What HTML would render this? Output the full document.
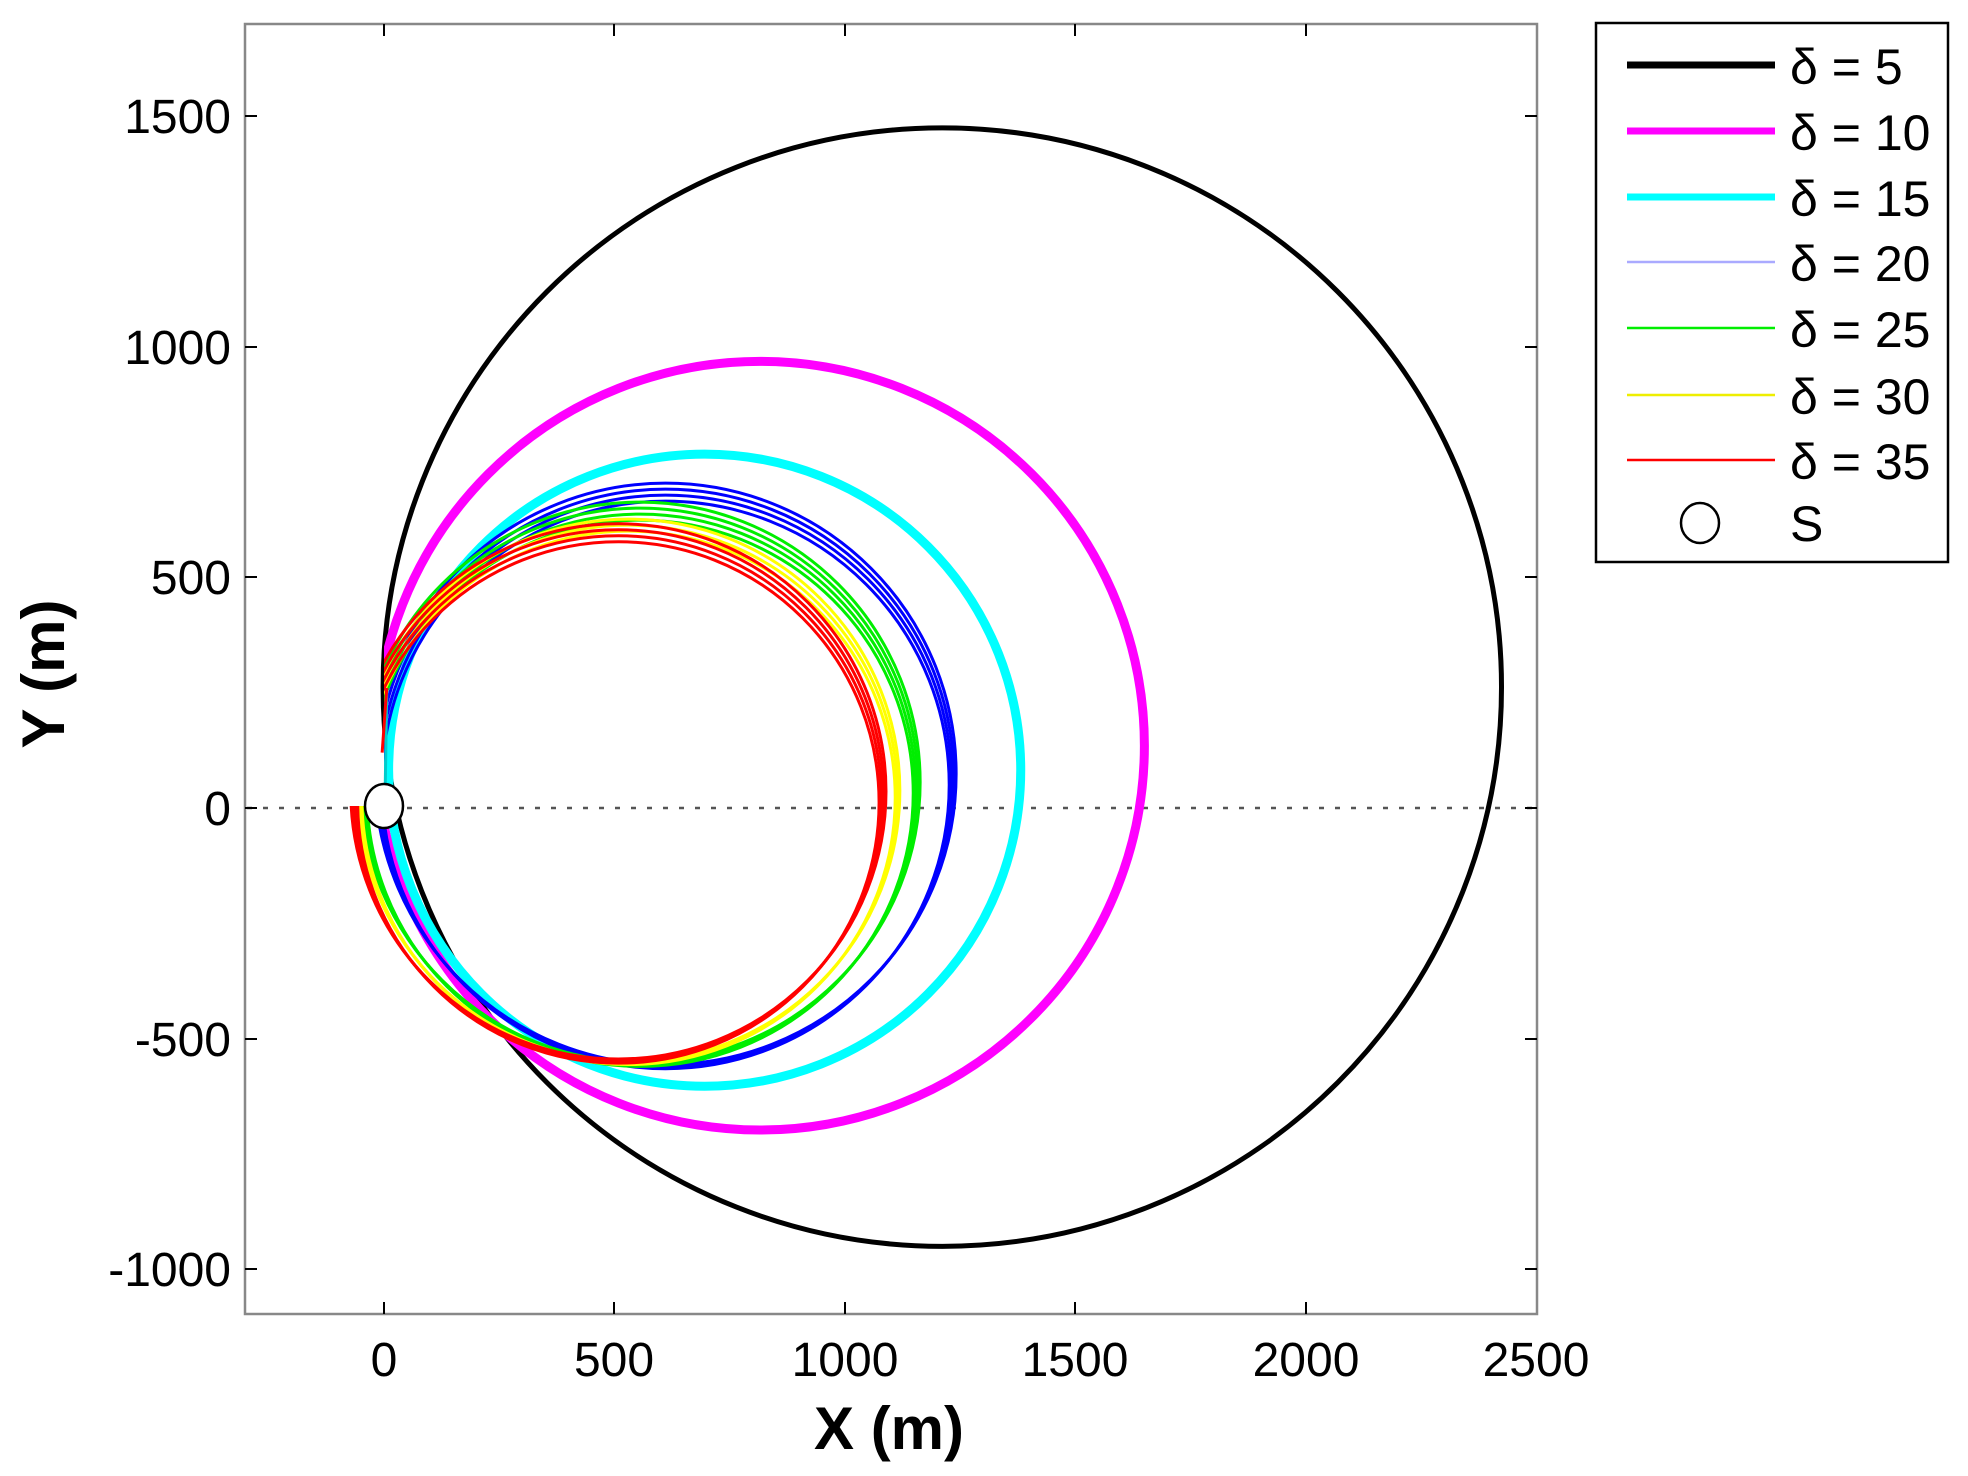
<!DOCTYPE html>
<html><head><meta charset="utf-8"><style>
html,body{margin:0;padding:0;background:#fff;}
svg{display:block;font-family:"Liberation Sans",Arial,sans-serif;}
</style></head><body>
<svg width="1968" height="1476" viewBox="0 0 1968 1476" xmlns="http://www.w3.org/2000/svg">
<rect width="1968" height="1476" fill="#fff"/>
<defs>
<clipPath id="ax"><rect x="245" y="24" width="1292" height="1290"/></clipPath>
<clipPath id="cut"><rect x="384" y="24" width="1153" height="1290"/><rect x="245" y="806" width="140" height="508"/></clipPath>
</defs>
<line x1="247" y1="808" x2="1536" y2="808" stroke="#555" stroke-width="2.5" stroke-dasharray="5 11"/>
<g clip-path="url(#ax)">
<g transform="matrix(0.4614,0,0,-0.4614,384,808)" fill="none">
  <circle cx="1210" cy="262" r="1212" stroke="#000" stroke-width="5" vector-effect="non-scaling-stroke"/>
</g>
<g clip-path="url(#cut)">
<g transform="matrix(0.4614,0,0,-0.4614,384,808)" fill="none">
  <circle cx="815" cy="135" r="833" stroke="#f0f" stroke-width="9" vector-effect="non-scaling-stroke"/>
  <circle cx="695" cy="82" r="685" stroke="#0ff" stroke-width="9" vector-effect="non-scaling-stroke"/>
  <g stroke="#00f" stroke-width="3">
    <circle cx="610" cy="50" r="615" vector-effect="non-scaling-stroke"/>
    <circle cx="610" cy="58" r="620" vector-effect="non-scaling-stroke"/>
    <circle cx="610" cy="66" r="625" vector-effect="non-scaling-stroke"/>
    <circle cx="610" cy="74" r="630" vector-effect="non-scaling-stroke"/>
  </g>
  <g stroke="#0e0" stroke-width="3">
    <circle cx="555" cy="32" r="592" vector-effect="non-scaling-stroke"/>
    <circle cx="555" cy="40" r="597" vector-effect="non-scaling-stroke"/>
    <circle cx="555" cy="48" r="602" vector-effect="non-scaling-stroke"/>
    <circle cx="555" cy="56" r="607" vector-effect="non-scaling-stroke"/>
  </g>
  <g stroke="#ff0" stroke-width="3">
    <circle cx="530" cy="22" r="578" vector-effect="non-scaling-stroke"/>
    <circle cx="530" cy="30" r="583" vector-effect="non-scaling-stroke"/>
    <circle cx="530" cy="38" r="588" vector-effect="non-scaling-stroke"/>
  </g>
  <g stroke="#f00" stroke-width="3">
    <circle cx="508" cy="12" r="565" vector-effect="non-scaling-stroke"/>
    <circle cx="508" cy="20" r="570" vector-effect="non-scaling-stroke"/>
    <circle cx="508" cy="28" r="575" vector-effect="non-scaling-stroke"/>
    <circle cx="508" cy="36" r="580" vector-effect="non-scaling-stroke"/>
  </g>
</g>
</g>
<g transform="matrix(0.4614,0,0,-0.4614,384,808)" fill="none">
  <line x1="2" y1="0" x2="6" y2="260" stroke="#0cc" stroke-width="3" vector-effect="non-scaling-stroke"/>
  <line x1="-4" y1="120" x2="6" y2="260" stroke="#f00" stroke-width="3" vector-effect="non-scaling-stroke"/>
</g>
</g>
<ellipse cx="384" cy="806" rx="19" ry="22" fill="#fff" stroke="#000" stroke-width="2.5"/>
<rect x="245" y="24" width="1292" height="1290" fill="none" stroke="#888" stroke-width="2.5"/>
<g stroke="#000" stroke-width="2">
  <line x1="384" y1="1314" x2="384" y2="1302"/><line x1="614" y1="1314" x2="614" y2="1302"/>
  <line x1="845" y1="1314" x2="845" y2="1302"/><line x1="1075" y1="1314" x2="1075" y2="1302"/>
  <line x1="1306" y1="1314" x2="1306" y2="1302"/>
  <line x1="384" y1="24" x2="384" y2="36"/><line x1="614" y1="24" x2="614" y2="36"/>
  <line x1="845" y1="24" x2="845" y2="36"/><line x1="1075" y1="24" x2="1075" y2="36"/>
  <line x1="1306" y1="24" x2="1306" y2="36"/>
  <line x1="245" y1="116" x2="257" y2="116"/><line x1="245" y1="347" x2="257" y2="347"/>
  <line x1="245" y1="577" x2="257" y2="577"/><line x1="245" y1="808" x2="257" y2="808"/>
  <line x1="245" y1="1039" x2="257" y2="1039"/><line x1="245" y1="1269" x2="257" y2="1269"/>
  <line x1="1537" y1="116" x2="1525" y2="116"/><line x1="1537" y1="347" x2="1525" y2="347"/>
  <line x1="1537" y1="577" x2="1525" y2="577"/><line x1="1537" y1="808" x2="1525" y2="808"/>
  <line x1="1537" y1="1039" x2="1525" y2="1039"/><line x1="1537" y1="1269" x2="1525" y2="1269"/>
</g>
<g font-size="48" fill="#000" text-anchor="middle">
  <text x="384" y="1376">0</text><text x="614" y="1376">500</text><text x="845" y="1376">1000</text>
  <text x="1075" y="1376">1500</text><text x="1306" y="1376">2000</text><text x="1536" y="1376">2500</text>
</g>
<g font-size="48" fill="#000" text-anchor="end">
  <text x="231" y="133">1500</text><text x="231" y="364">1000</text><text x="231" y="594">500</text>
  <text x="231" y="825">0</text><text x="231" y="1056">-500</text><text x="231" y="1286">-1000</text>
</g>
<text x="889" y="1449" font-size="60" font-weight="bold" text-anchor="middle">X (m)</text>
<text transform="translate(64,674) rotate(-90)" font-size="60" font-weight="bold" text-anchor="middle">Y (m)</text>
<rect x="1596" y="23" width="352" height="539" fill="#fff" stroke="#000" stroke-width="2.5"/>
<g>
  <line x1="1627" y1="65" x2="1775" y2="65" stroke="#000" stroke-width="7"/>
  <line x1="1627" y1="131" x2="1775" y2="131" stroke="#f0f" stroke-width="7"/>
  <line x1="1627" y1="197" x2="1775" y2="197" stroke="#0ff" stroke-width="7"/>
  <line x1="1627" y1="262" x2="1775" y2="262" stroke="#aaf" stroke-width="2.5"/>
  <line x1="1627" y1="328" x2="1775" y2="328" stroke="#0e0" stroke-width="2.5"/>
  <line x1="1627" y1="395" x2="1775" y2="395" stroke="#ee0" stroke-width="2.5"/>
  <line x1="1627" y1="460" x2="1775" y2="460" stroke="#f00" stroke-width="2.5"/>
  <ellipse cx="1700" cy="523" rx="19" ry="20" fill="#fff" stroke="#000" stroke-width="2.5"/>
</g>
<g font-size="50" fill="#000">
  <text x="1790" y="84">δ = 5</text>
  <text x="1790" y="150">δ = 10</text>
  <text x="1790" y="216">δ = 15</text>
  <text x="1790" y="281">δ = 20</text>
  <text x="1790" y="347">δ = 25</text>
  <text x="1790" y="414">δ = 30</text>
  <text x="1790" y="479">δ = 35</text>
  <text x="1790" y="541">S</text>
</g>
</svg>
</body></html>
